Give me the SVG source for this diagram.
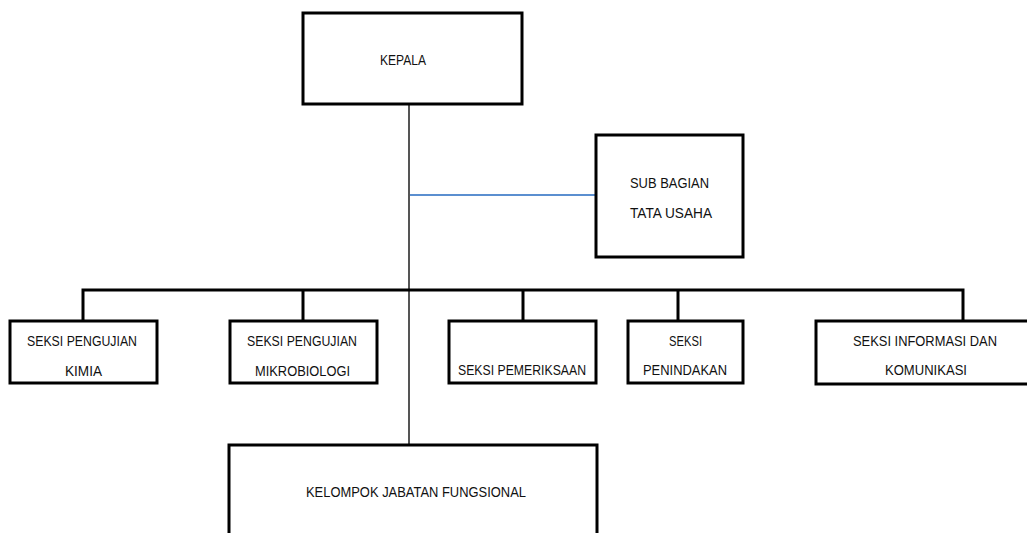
<svg xmlns="http://www.w3.org/2000/svg" width="1027" height="533" viewBox="0 0 1027 533">
<style>
.box{fill:#fff;stroke:#000;stroke-width:3}
.t{font-family:"Liberation Sans",Arial,sans-serif;font-size:15px;fill:#111}
.bus{stroke:#000;stroke-width:3;fill:none}
.gray{stroke:#555;stroke-width:2;fill:none}
.blue{stroke:#5b8fd0;stroke-width:2;fill:none}
</style>
<rect width="1027" height="533" fill="#fff"/>
<g id="connectors">
<line class="gray" x1="409" y1="104" x2="409" y2="445"/>
<line class="blue" x1="410" y1="195" x2="596" y2="195"/>
<polyline class="bus" points="83,321 83,290 963,290 963,321"/>
<line class="bus" x1="303" y1="290" x2="303" y2="321"/>
<line class="bus" x1="523" y1="290" x2="523" y2="321"/>
<line class="bus" x1="678" y1="290" x2="678" y2="321"/>
</g>
<g id="kepala">
<rect class="box" x="303" y="13" width="219" height="91"/>
<text class="t" x="380" y="65" textLength="46" lengthAdjust="spacingAndGlyphs">KEPALA</text>
</g>
<g id="subbagian">
<rect class="box" x="596" y="135" width="147" height="122"/>
<text class="t" x="630" y="188" textLength="79" lengthAdjust="spacingAndGlyphs">SUB BAGIAN</text>
<text class="t" x="630" y="218" textLength="82" lengthAdjust="spacingAndGlyphs">TATA USAHA</text>
</g>
<g id="kimia">
<rect class="box" x="10" y="321" width="147" height="62"/>
<text class="t" x="27" y="346" textLength="110" lengthAdjust="spacingAndGlyphs">SEKSI PENGUJIAN</text>
<text class="t" x="65" y="376" textLength="37" lengthAdjust="spacingAndGlyphs">KIMIA</text>
</g>
<g id="mikrobiologi">
<rect class="box" x="230" y="321" width="147" height="62"/>
<text class="t" x="247" y="346" textLength="110" lengthAdjust="spacingAndGlyphs">SEKSI PENGUJIAN</text>
<text class="t" x="255" y="376" textLength="95" lengthAdjust="spacingAndGlyphs">MIKROBIOLOGI</text>
</g>
<g id="pemeriksaan">
<rect class="box" x="449" y="321" width="147" height="62"/>
<text class="t" x="458" y="375" textLength="128" lengthAdjust="spacingAndGlyphs">SEKSI PEMERIKSAAN</text>
</g>
<g id="penindakan">
<rect class="box" x="628" y="321" width="115" height="62"/>
<text class="t" x="669" y="346" textLength="33" lengthAdjust="spacingAndGlyphs">SEKSI</text>
<text class="t" x="643" y="375" textLength="84" lengthAdjust="spacingAndGlyphs">PENINDAKAN</text>
</g>
<g id="informasi">
<rect class="box" x="816" y="321" width="220" height="63"/>
<text class="t" x="853" y="346" textLength="144" lengthAdjust="spacingAndGlyphs">SEKSI INFORMASI DAN</text>
<text class="t" x="885" y="375" textLength="82" lengthAdjust="spacingAndGlyphs">KOMUNIKASI</text>
</g>
<g id="kelompok">
<rect class="box" x="229" y="445" width="368" height="100"/>
<text class="t" x="306" y="497" textLength="220" lengthAdjust="spacingAndGlyphs">KELOMPOK JABATAN FUNGSIONAL</text>
</g>
</svg>
